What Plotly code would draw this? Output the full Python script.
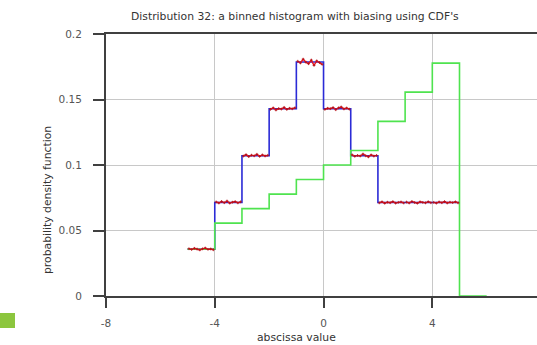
import numpy as np
import plotly.graph_objects as go

# Coarse bin edges for the target pdf and the biasing pdf
pdf_edges = [-5, -4, -3, -2, -1, 0, 1, 2, 3, 4, 5]
pdf_values = [0.0357, 0.0714, 0.1071, 0.1429, 0.1786, 0.1429, 0.1071, 0.0714, 0.0714, 0.0714]

bias_edges = [-5, -4, -3, -2, -1, 0, 1, 2, 3, 4, 5, 6]
bias_values = [0.0357, 0.0556, 0.0667, 0.0778, 0.0889, 0.1000, 0.1111, 0.1333, 0.1556, 0.1778, 0.0]

# Sampled histogram: fine bins of width 0.1 from -5 to 5 (ten per coarse bin)
sample_lo, sample_hi, sample_width = -5.0, 5.0, 0.1
fine_per_coarse = 10
sample_values = [
    0.0361, 0.0355, 0.0364, 0.0358, 0.0352, 0.0360, 0.0366, 0.0356, 0.0359, 0.0353,
    0.0718, 0.0710, 0.0722, 0.0712, 0.0725, 0.0709, 0.0716, 0.0721, 0.0711, 0.0719,
    0.1068, 0.1079, 0.1064, 0.1075, 0.1070, 0.1082, 0.1066, 0.1077, 0.1069, 0.1074,
    0.1425, 0.1436, 0.1420, 0.1431, 0.1427, 0.1440, 0.1424, 0.1433, 0.1429, 0.1437,
    0.1792, 0.1779, 0.1808, 0.1785, 0.1773, 0.1801, 0.1760, 0.1795, 0.1782, 0.1768,
    0.1424, 0.1433, 0.1430, 0.1439, 0.1422, 0.1436, 0.1443, 0.1428, 0.1435, 0.1426,
    0.1078, 0.1066, 0.1073, 0.1069, 0.1084, 0.1070, 0.1062, 0.1077, 0.1068, 0.1073,
    0.0711, 0.0719, 0.0708, 0.0716, 0.0712, 0.0721, 0.0709, 0.0715, 0.0718, 0.0710,
    0.0717, 0.0710, 0.0722, 0.0713, 0.0708, 0.0719, 0.0714, 0.0711, 0.0720, 0.0712,
    0.0715, 0.0709, 0.0718, 0.0712, 0.0721, 0.0710, 0.0716, 0.0713, 0.0719, 0.0711,
]

x_tick_vals = [-8, -4, 0, 4]
x_tick_text = ["-8", "-4", "0", "4"]
y_tick_vals = [0, 0.05, 0.1, 0.15, 0.2]
y_tick_text = ["0", "0.05", "0.1", "0.15", "0.2"]

title_text = "Distribution 32: a binned histogram with biasing using CDF's"
x_label = "abscissa value"
y_label = "probability density function"

FONT = "DejaVu Sans"
W, H = 537, 345
ML, MT, MB, MR = 106, 34, 49, 0
PW, PH = W - ML - MR, H - MT - MB


def px_to_paper(px, py):
    return (px - ML) / PW, (H - MB - py) / PH


# break the sample line between coarse bins so it stays on each plateau
fine_x = np.arange(sample_lo + sample_width / 2, sample_hi, sample_width)
sample_x, sample_y = [], []
for i, (xv, yv) in enumerate(zip(fine_x, sample_values)):
    sample_x.append(float(xv))
    sample_y.append(yv)
    if (i + 1) % fine_per_coarse == 0:
        sample_x.append(None)
        sample_y.append(None)

fig = go.Figure()
fig.add_trace(go.Scatter(
    x=pdf_edges, y=pdf_values + [pdf_values[-1]], mode="lines",
    line=dict(color="#2b2bd6", width=1.6, shape="hv"), hoverinfo="skip"))
fig.add_trace(go.Scatter(
    x=bias_edges, y=bias_values + [bias_values[-1]], mode="lines",
    line=dict(color="#4fe34f", width=1.6, shape="hv"), hoverinfo="skip"))
fig.add_trace(go.Scatter(
    x=sample_x, y=sample_y, mode="lines+markers",
    line=dict(color="#e8141e", width=1.4),
    marker=dict(color="#b01018", size=2, symbol="cross-thin",
                line=dict(color="#b01018", width=0.8)),
    connectgaps=False, hoverinfo="skip"))

tx, ty = px_to_paper(295, 17)
xl_x, xl_y = px_to_paper(296, 337)
yl_x, yl_y = px_to_paper(47, 200)
sq_x0, sq_y1 = px_to_paper(0, 313)
sq_x1, sq_y0 = px_to_paper(15, 328)

LABEL_SIZE = 10.8

fig.update_layout(
    width=W, height=H,
    margin=dict(l=ML, r=MR, t=MT, b=MB, pad=0),
    paper_bgcolor="white", plot_bgcolor="white",
    showlegend=False,
    font=dict(family=FONT, size=10, color="#333333"),
    xaxis=dict(
        range=[-8, 7.85], tickmode="array", tickvals=x_tick_vals, ticktext=x_tick_text,
        showgrid=True, gridcolor="#c8c8c8", gridwidth=1, zeroline=False,
        showline=True, linecolor="#404040", linewidth=2, mirror=True,
        ticks="outside", ticklen=10, tickwidth=1.5, tickcolor="#404040",
        ticklabelstandoff=6, tickfont=dict(family=FONT, size=10.5, color="#555555"),
    ),
    yaxis=dict(
        range=[0, 0.2], tickmode="array", tickvals=y_tick_vals, ticktext=y_tick_text,
        showgrid=True, gridcolor="#c8c8c8", gridwidth=1, zeroline=False,
        showline=True, linecolor="#404040", linewidth=2, mirror=False,
        ticks="outside", ticklen=11, tickwidth=1.5, tickcolor="#404040",
        ticklabelstandoff=9, tickfont=dict(family=FONT, size=10.5, color="#555555"),
    ),
    annotations=[
        dict(text=title_text, x=tx, y=ty, xref="paper", yref="paper",
             showarrow=False, xanchor="center", yanchor="middle",
             font=dict(family=FONT, size=LABEL_SIZE, color="#333333")),
        dict(text=x_label, x=xl_x, y=xl_y, xref="paper", yref="paper",
             showarrow=False, xanchor="center", yanchor="middle",
             font=dict(family=FONT, size=LABEL_SIZE, color="#333333")),
        dict(text=y_label, x=yl_x, y=yl_y, xref="paper", yref="paper",
             showarrow=False, xanchor="center", yanchor="middle", textangle=-90,
             font=dict(family=FONT, size=LABEL_SIZE, color="#333333")),
    ],
    shapes=[
        dict(type="rect", xref="paper", yref="paper",
             x0=sq_x0, x1=sq_x1, y0=sq_y0, y1=sq_y1,
             fillcolor="#8cc63e", line=dict(width=0)),
    ],
)

fig.write_html("out.html")
